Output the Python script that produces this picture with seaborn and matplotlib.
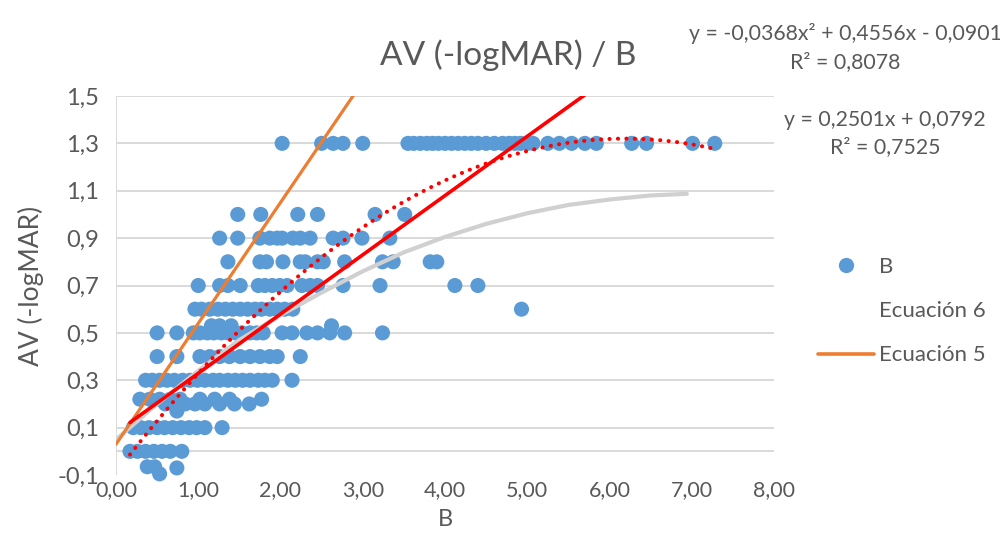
import numpy as np
import pandas as pd
import matplotlib
matplotlib.use("Agg")
import matplotlib.pyplot as plt
from matplotlib.lines import Line2D
import seaborn as sns

# ---------------- data ----------------
x_at_130 = [2.02, 2.50, 2.64, 2.76, 3.00, 3.55, 3.62, 3.70, 3.78, 3.85, 3.92, 4.00,
            4.08, 4.16, 4.24, 4.32, 4.40, 4.50, 4.60, 4.70, 4.78, 4.85, 4.92, 5.00,
            5.07, 5.25, 5.39, 5.54, 5.70, 5.84, 6.27, 6.45, 7.01, 7.28]
x_at_100 = [1.48, 1.76, 2.21, 2.45, 3.15, 3.51]
x_at_090 = [1.26, 1.48, 1.75, 1.87, 1.96, 2.02, 2.15, 2.24, 2.36, 2.64, 2.76, 2.99, 3.33]
x_at_080 = [1.36, 1.75, 1.83, 2.03, 2.24, 2.30, 2.45, 2.52, 2.78, 3.24, 3.37, 3.82, 3.90]
x_at_070 = [1.00, 1.26, 1.36, 1.51, 1.73, 1.81, 1.90, 1.99, 2.08, 2.26, 2.36, 2.45,
            2.76, 3.21, 4.12, 4.40]
x_at_060 = [0.96, 1.04, 1.14, 1.24, 1.33, 1.42, 1.51, 1.60, 1.69, 1.77, 1.87, 1.96,
            2.05, 2.15, 4.93]
x_at_053 = [1.16, 1.26, 1.40, 2.62]
x_at_050 = [0.50, 0.74, 0.94, 1.02, 1.11, 1.19, 1.28, 1.36, 1.45, 1.53, 1.63, 1.71,
            1.79, 2.02, 2.14, 2.32, 2.45, 2.60, 2.78, 3.24]
x_at_040 = [0.50, 0.74, 1.02, 1.14, 1.26, 1.38, 1.51, 1.63, 1.75, 1.87, 1.96, 2.24]
x_at_030 = [0.36, 0.44, 0.53, 0.62, 0.71, 0.81, 0.90, 0.99, 1.08, 1.18, 1.26, 1.36,
            1.45, 1.54, 1.63, 1.73, 1.81, 1.90, 2.14]
x_at_022 = [0.29, 0.41, 0.53, 0.66, 0.78, 1.02, 1.20, 1.38, 1.77]
x_at_020 = [0.60, 0.84, 0.96, 1.08, 1.26, 1.44, 1.62]
x_at_017 = [0.74]
x_at_010 = [0.21, 0.30, 0.40, 0.50, 0.59, 0.69, 0.79, 0.89, 0.98, 1.08, 1.29]
x_at_000 = [0.17, 0.26, 0.36, 0.46, 0.56, 0.66, 0.80]
x_low = [0.38, 0.47, 0.53, 0.74]
y_low = [-0.065, -0.065, -0.095, -0.07]

# "Ecuación 5" (orange straight line) end points
eq5_x = [0.0, 2.95]
eq5_y = [0.03, 1.535]
# "Ecuación 6" (light grey curve)
eq6_x = [0.0, 0.5, 1.0, 1.5, 2.0, 2.5, 3.0, 3.5, 4.0, 4.5, 5.0, 5.5, 6.0, 6.5, 6.94]
eq6_y = [0.05, 0.20, 0.34, 0.47, 0.575, 0.67, 0.76, 0.84, 0.905, 0.96, 1.005,
         1.04, 1.063, 1.08, 1.087]

# trendline coefficients printed on the chart
lin_coef = [0.2501, 0.0792]
poly_coef = [-0.0368, 0.4556, -0.0901]

ytick_vals = [-0.1, 0.1, 0.3, 0.5, 0.7, 0.9, 1.1, 1.3, 1.5]
ytick_labels = ["-0,1", "0,1", "0,3", "0,5", "0,7", "0,9", "1,1", "1,3", "1,5"]
xtick_vals = [0, 1, 2, 3, 4, 5, 6, 7, 8]
xtick_labels = ["0,00", "1,00", "2,00", "3,00", "4,00", "5,00", "6,00", "7,00", "8,00"]
grid_levels = [0.0, 0.1, 0.3, 0.5, 0.7, 0.9, 1.1, 1.3, 1.5]

# ---------------- build frame ----------------
rows = [(x_at_130, 1.3), (x_at_100, 1.0), (x_at_090, 0.9), (x_at_080, 0.8),
        (x_at_070, 0.7), (x_at_060, 0.6), (x_at_053, 0.53), (x_at_050, 0.5),
        (x_at_040, 0.4), (x_at_030, 0.3), (x_at_022, 0.22), (x_at_020, 0.2),
        (x_at_017, 0.17), (x_at_010, 0.1), (x_at_000, 0.0)]
xs, ys = [], []
for xl, yv in rows:
    xs += xl
    ys += [yv] * len(xl)
xs += x_low
ys += y_low
df = pd.DataFrame({"B": xs, "AV": ys})

BLUE = "#5B9BD5"
ORANGE = "#ED7D31"
RED = "#FF0000"
GREY = "#D0D0D0"
TXT = "#595959"
GRID = "#D9D9D9"

sns.set_theme(style="white")
plt.rcParams["font.family"] = ["Lato", "DejaVu Sans"]

fig = plt.figure(figsize=(10, 5.35), dpi=100)
ax = fig.add_axes([0.116, 0.1121, 0.658, 0.7085])

for g in grid_levels:
    ax.axhline(g, color=GRID, lw=1.4, zorder=1)
ax.axvline(0, color=GRID, lw=1.4, zorder=1)

sns.scatterplot(data=df, x="B", y="AV", color=BLUE, s=118, linewidth=0,
                edgecolor="none", ax=ax, zorder=3, clip_on=False, legend=False)

# Ecuación 6 (grey)
ax.plot(eq6_x, eq6_y, color=GREY, lw=3.0, zorder=4, solid_capstyle="round")
# Ecuación 5 (orange)
ax.plot(eq5_x, eq5_y, color=ORANGE, lw=2.3, zorder=5)

# trendlines from printed equations
xmin, xmax = df["B"].min(), df["B"].max()
tx = np.linspace(xmin, xmax, 300)
ax.plot(tx, np.polyval(lin_coef, tx), color=RED, lw=2.6, zorder=6)
ax.plot(tx, np.polyval(poly_coef, tx), color=RED, lw=2.9, zorder=6,
        linestyle=(0, (0.05, 2.05)), dash_capstyle="round")

ax.set_xlim(0, 8)
ax.set_ylim(-0.1, 1.5)
ax.set_yticks(ytick_vals)
ax.set_yticklabels(ytick_labels)
ax.set_xticks(xtick_vals)
ax.set_xticklabels(xtick_labels)
ax.tick_params(axis="x", length=0, labelsize=15.5, colors=TXT, pad=4)
ax.tick_params(axis="y", length=0, labelsize=17, colors=TXT, pad=12)
for s in ax.spines.values():
    s.set_visible(False)
ax.set_xlabel("B", fontsize=17, color=TXT, labelpad=6)
ax.set_ylabel("AV (-logMAR)", fontsize=19, color=TXT, labelpad=10)

fig.text(0.508, 1 - 55 / 535, "AV (-logMAR) / B", ha="center", va="center",
         fontsize=24, color=TXT)

fig.text(0.845, 1 - 33 / 535, "y = -0,0368x² + 0,4556x - 0,0901", ha="center",
         va="center", fontsize=15.3, color=TXT)
fig.text(0.845, 1 - 62 / 535, "R² = 0,8078", ha="center", va="center",
         fontsize=15.3, color=TXT)
fig.text(0.885, 1 - 120 / 535, "y = 0,2501x + 0,0792", ha="center",
         va="center", fontsize=15.3, color=TXT)
fig.text(0.885, 1 - 147 / 535, "R² = 0,7525", ha="center", va="center",
         fontsize=15.3, color=TXT)

handles = [Line2D([], [], marker="o", ls="none", color=BLUE, markersize=11,
                  markeredgewidth=0),
           Line2D([], [], color="none", lw=2.5),
           Line2D([], [], color=ORANGE, lw=2.6)]
fig.legend(handles, ["B", "Ecuación 6", "Ecuación 5"], loc="center left",
           bbox_to_anchor=(0.818, 1 - 311 / 535), frameon=False, fontsize=16,
           handlelength=2.5, handletextpad=0.25, labelspacing=1.1,
           borderpad=0, borderaxespad=0, labelcolor=TXT)

fig.savefig("out.png", dpi=100)
